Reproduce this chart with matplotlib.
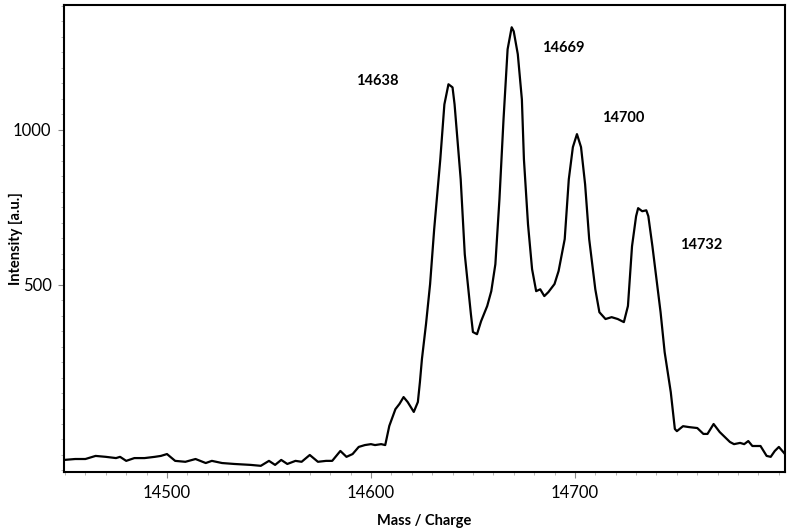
import matplotlib
matplotlib.use('Agg')
from matplotlib import pyplot as plt
from matplotlib.ticker import FixedLocator, MultipleLocator

plt.rcParams['font.family'] = ['Lato', 'DejaVu Sans']

# spectrum (mass/charge, intensity)
mass = [14449.5, 14455, 14460, 14465, 14470, 14475, 14477, 14480, 14484, 14489,
        14494, 14497, 14500, 14504, 14509, 14514, 14519, 14522, 14527, 14533,
        14541, 14546, 14550, 14553, 14556, 14559, 14563, 14566, 14570, 14574,
        14578, 14581, 14585, 14588, 14591, 14594, 14597, 14600, 14602, 14605,
        14607, 14609, 14612, 14614, 14616, 14618, 14621, 14623, 14624, 14625,
        14627, 14629, 14631, 14634, 14636, 14638, 14640, 14641, 14644, 14646,
        14649, 14650, 14652, 14654, 14657, 14659, 14661, 14663, 14665, 14667,
        14669, 14670, 14672, 14674, 14675, 14677, 14679, 14681, 14683, 14685,
        14687, 14690, 14692, 14695, 14697, 14699, 14701, 14703, 14705, 14707,
        14710, 14712, 14715, 14718, 14721, 14724, 14726, 14728, 14730, 14731,
        14733, 14735, 14736, 14738, 14742, 14744, 14747, 14749, 14750, 14753,
        14756, 14760, 14763, 14765, 14768, 14771, 14776, 14778, 14781, 14783,
        14785, 14787, 14791, 14794, 14796, 14798, 14800, 14803]
intensity = [-66, -63, -63, -53, -56, -60, -56, -69, -60, -60,
             -56, -53, -47, -69, -72, -63, -76, -69, -76, -79,
             -82, -85, -69, -82, -66, -79, -69, -72, -50, -72,
             -69, -69, -37, -56, -47, -24, -18, -15, -18, -15,
             -18, 44, 98, 115, 137, 121, 89, 121, 185, 260,
             373, 502, 679, 905, 1082, 1147, 1137, 1082, 840, 598,
             405, 347, 340, 382, 431, 479, 566, 776, 1034, 1260,
             1331, 1318, 1244, 1098, 905, 695, 550, 479, 485, 463,
             476, 502, 544, 647, 840, 944, 986, 944, 824, 647,
             485, 411, 389, 395, 389, 379, 431, 624, 721, 747,
             737, 740, 721, 624, 411, 282, 153, 34, 27, 43,
             40, 37, 18, 18, 50, 24, -8, -15, -11, -15,
             -5, -21, -21, -53, -56, -37, -24, -47]

peak_labels = ['14638', '14669', '14700', '14732']
label_x = [14603, 14694.5, 14723.5, 14762]
label_y = [1158, 1265, 1039, 629]

fig = plt.figure(figsize=(7.91, 5.30), dpi=100)
ax = fig.add_axes([0.0809, 0.1094, 0.9115, 0.8812])

ax.plot(mass, intensity, color='black', linewidth=1.6)

for lab, lx, ly in zip(peak_labels, label_x, label_y):
    ax.text(lx, ly, lab, ha='center', va='center', fontsize=10.5, fontweight='bold')

ax.set_xlim(14449.5, 14803)
ax.set_ylim(-105, 1403)

ax.xaxis.set_major_locator(FixedLocator([14500, 14600, 14700]))
ax.xaxis.set_minor_locator(MultipleLocator(10))
ax.yaxis.set_major_locator(FixedLocator([500, 1000]))
ax.yaxis.set_minor_locator(MultipleLocator(50))
ax.tick_params(which='major', length=4, width=0.8, color='#888888', labelsize=12, pad=5)
ax.tick_params(which='minor', length=2.5, width=0.6, color='#aaaaaa')

for s in ax.spines.values():
    s.set_linewidth(1.5)

ax.set_xlabel('Mass / Charge', fontsize=10.5, fontweight='bold', labelpad=10)
ax.set_ylabel('Intensity [a.u.]', fontsize=10.5, fontweight='bold')
ax.yaxis.set_label_coords(-0.057, 0.5)

plt.savefig('out.png', dpi=100)
